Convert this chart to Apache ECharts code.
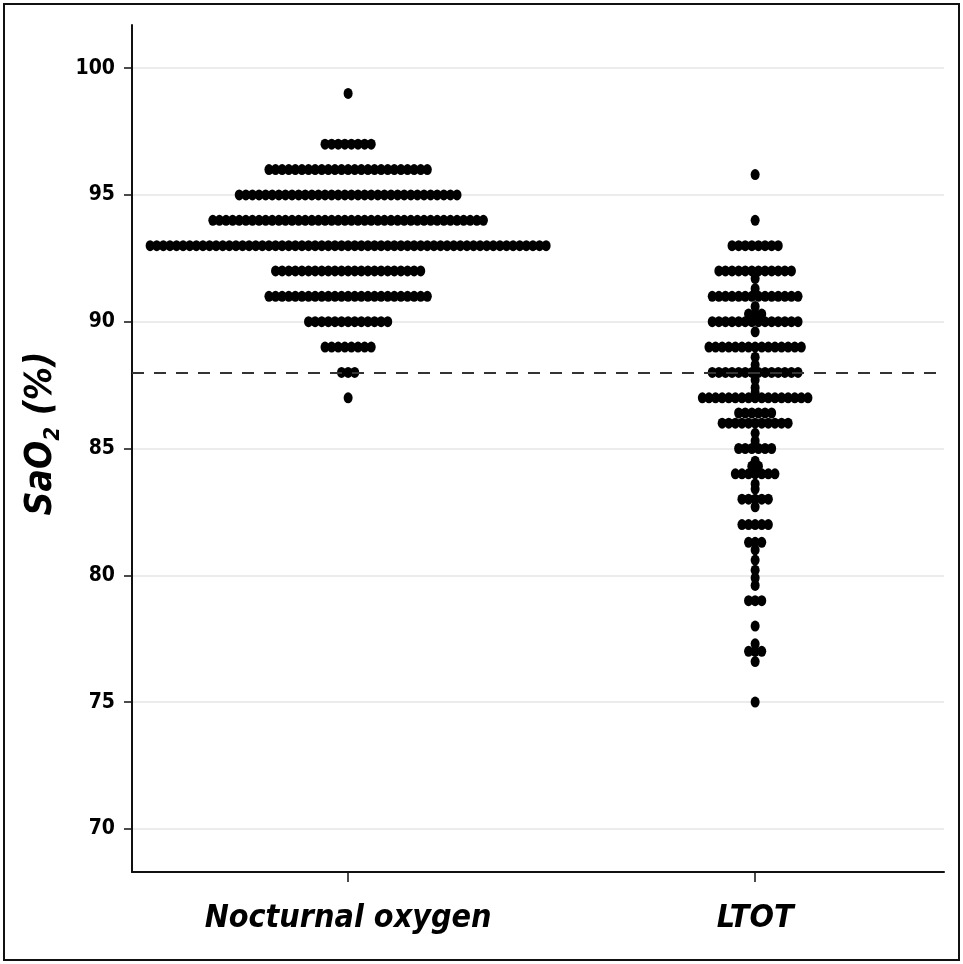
<!DOCTYPE html>
<html>
<head>
<meta charset="utf-8">
<title>SaO2 dot plot</title>
<script src="https://cdn.jsdelivr.net/npm/echarts@6/dist/echarts.min.js"></script>
<style>
  html, body { margin: 0; padding: 0; background: #fff; }
  #chart { position: absolute; left: 0; top: 0; width: 963px; height: 964px; }
  #frame { position: absolute; left: 3px; top: 3px; width: 953px; height: 954px; border: 2px solid #111; pointer-events: none; }
</style>
</head>
<body>
<div id="chart"></div>
<div id="frame"></div>
<script>
// groups on the x axis
const groups = ['Nocturnal oxygen', 'LTOT'];

// nocturnal oxygen: SaO2 value and how many patients sit on it
const nocturnalValues = [99, 97, 96, 95, 94, 93, 92, 91, 90, 89, 88, 87];
const nocturnalCounts = [1, 8, 25, 34, 42, 61, 23, 25, 13, 8, 3, 1];

// LTOT: same thing, includes the non-integer readings stacked in the middle
const ltotValues = [95.8, 94, 93, 92, 91.7, 91.3, 91, 90.6, 90.3, 90, 89.6, 89, 88.6, 88.3, 88,
  87.7, 87.4, 87.2, 87, 86.4, 86, 85.6, 85.3, 85, 84.5, 84.3, 84, 83.6, 83.4, 83, 82.7, 82,
  81.3, 81, 80.6, 80.2, 79.9, 79.6, 79, 78, 77.3, 77, 76.6, 75];
const ltotCounts = [1, 1, 8, 12, 1, 1, 14, 1, 3, 14, 1, 15, 1, 1, 14,
  1, 1, 1, 17, 6, 11, 1, 1, 6, 1, 2, 7, 1, 1, 5, 1, 5,
  3, 1, 1, 1, 1, 1, 3, 1, 1, 3, 1, 1];

const yTicks = [70, 75, 80, 85, 90, 95, 100];
const threshold = 88;

const fontName = '"Liberation Sans Narrow", "DejaVu Sans Condensed", "Liberation Sans", sans-serif';

// axis extents (x: group 1 at 1, group 2 at 2)
const xMin = 0.469, xMax = 2.464;
const yMin = 68.3, yMax = 101.7;
const gridLeft = 132, gridRight = 19, gridTop = 25, gridBottom = 92;
const plotWidth = 963 - gridLeft - gridRight;
const dotGapPx = 6.6;
const dotGap = dotGapPx * (xMax - xMin) / plotWidth;

// lay each row of equal values out side by side, centred on the group
function rowPoints(center, values, counts) {
  const pts = [];
  values.forEach((v, i) => {
    const n = counts[i];
    for (let k = 0; k < n; k++) {
      pts.push([center + (k - (n - 1) / 2) * dotGap, v]);
    }
  });
  return pts;
}

const nocturnalPoints = rowPoints(1, nocturnalValues, nocturnalCounts);
const ltotPoints = rowPoints(2, ltotValues, ltotCounts);

const chart = echarts.init(document.getElementById('chart'));

const dotStyle = {
  type: 'scatter',
  symbol: 'circle',
  symbolSize: [9, 11],
  itemStyle: { color: '#000', opacity: 1 },
  z: 3
};

chart.setOption({
  animation: false,
  grid: { left: gridLeft, right: gridRight, top: gridTop, bottom: gridBottom },
  xAxis: {
    type: 'value',
    min: xMin,
    max: xMax,
    axisLine: { lineStyle: { color: '#111', width: 2 } },
    axisTick: { show: true, length: 10, lineStyle: { color: '#111', width: 1.5 }, customValues: [1, 2] },
    axisLabel: {
      customValues: [1, 2],
      formatter: v => groups[Math.round(v) - 1] || '',
      color: '#000',
      fontFamily: fontName,
      fontWeight: 'bold',
      fontStyle: 'italic',
      fontSize: 32,
      margin: 31
    },
    splitLine: { show: false }
  },
  yAxis: {
    type: 'value',
    min: yMin,
    max: yMax,
    name: '{a|SaO}{b|2}{a| (%)}',
    nameLocation: 'middle',
    nameGap: 66,
    nameRotate: 90,
    nameTextStyle: {
      padding: [0, 0, 0, 30],
      rich: {
        a: { fontFamily: fontName, fontWeight: 'bold', fontStyle: 'italic', fontSize: 37, color: '#000', lineHeight: 46 },
        b: { fontFamily: fontName, fontWeight: 'bold', fontStyle: 'italic', fontSize: 22, color: '#000', lineHeight: 22, verticalAlign: 'bottom' }
      }
    },
    axisLine: { show: true, lineStyle: { color: '#111', width: 2 } },
    axisTick: { show: true, length: 8, lineStyle: { color: '#111', width: 1.5 }, customValues: yTicks },
    axisLabel: {
      customValues: yTicks,
      color: '#000',
      fontFamily: fontName,
      fontWeight: 'bold',
      fontSize: 21,
      margin: 17
    },
    splitLine: { show: true, lineStyle: { color: '#e6e6e6', width: 1.5 } }
  },
  series: [
    Object.assign({ name: groups[0], data: nocturnalPoints }, dotStyle),
    Object.assign({
      name: groups[1],
      data: ltotPoints,
      markLine: {
        silent: true,
        symbol: 'none',
        label: { show: false },
        lineStyle: { color: '#333', width: 2, type: [12, 10], dashOffset: 0 },
        data: [[{ coord: [xMin, threshold] }, { coord: [xMax, threshold] }]]
      }
    }, dotStyle)
  ]
});
</script>
</body>
</html>
